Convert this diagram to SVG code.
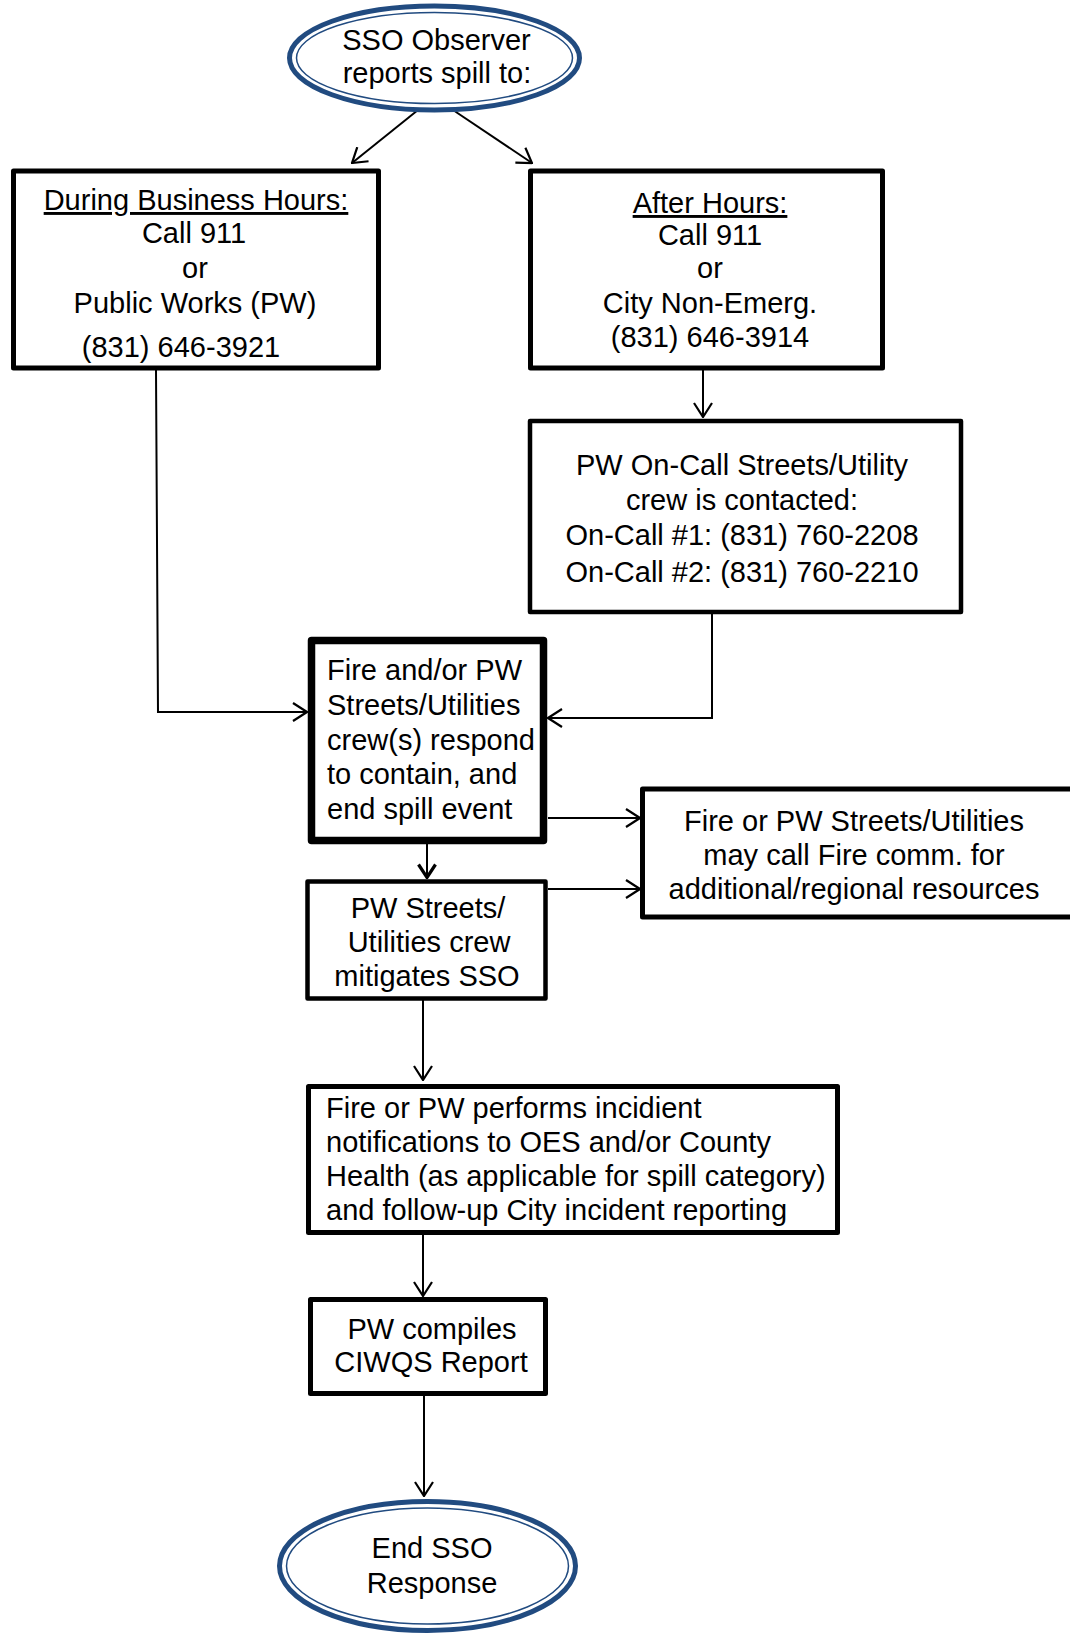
<svg xmlns="http://www.w3.org/2000/svg" width="1070" height="1634" viewBox="0 0 1070 1634">
<style>
text{font-family:"Liberation Sans",Arial,sans-serif;font-size:29px;fill:#000}
.c{text-anchor:middle}
.box{fill:#fff;stroke:#000;stroke-linejoin:round}
.ov{fill:#fff;stroke:#214b80;stroke-width:5}
.ovi{fill:none;stroke:#214b80;stroke-width:1.5}
.ln{fill:none;stroke:#000;stroke-width:2}
</style>
<defs>
<marker id="a" viewBox="0 0 16 20" refX="15" refY="10" markerWidth="16" markerHeight="20" orient="auto" markerUnits="userSpaceOnUse">
<path d="M1,1 L15,10 L1,19" fill="none" stroke="#000" stroke-width="2.2"/>
</marker>
<marker id="b" viewBox="0 0 16 20" refX="15" refY="10" markerWidth="16" markerHeight="20" orient="auto" markerUnits="userSpaceOnUse">
<path d="M1.5,1.5 L14.5,10 L1.5,18.5" fill="none" stroke="#000" stroke-width="3.2"/>
</marker>
</defs>
<g id="connectors">
<path class="ln" d="M418,110 L352,163" marker-end="url(#a)"/>
<path class="ln" d="M453,110 L532,163" marker-end="url(#a)"/>
<path class="ln" d="M703,370 L703,417" marker-end="url(#a)"/>
<path class="ln" d="M156,370 L158,712 L307,712" marker-end="url(#a)"/>
<path class="ln" d="M712,613 L712,718 L548,718" marker-end="url(#a)"/>
<path class="ln" d="M548,818 L640,818" marker-end="url(#a)"/>
<path class="ln" d="M548,889 L640,889" marker-end="url(#a)"/>
<path class="ln" stroke-width="3" d="M427,843 L427,878" marker-end="url(#b)"/>
<path class="ln" d="M423,1000 L423,1080" marker-end="url(#a)"/>
<path class="ln" d="M423,1235 L423,1296" marker-end="url(#a)"/>
<path class="ln" d="M424,1395 L424,1496" marker-end="url(#a)"/>
</g>
<g id="start">
<ellipse class="ov" cx="434.5" cy="58" rx="145" ry="52"/>
<ellipse class="ovi" cx="434.5" cy="58" rx="138" ry="45.5"/>
<text class="c" x="436.5" y="50">SSO Observer</text>
<text class="c" x="437" y="83">reports spill to:</text>
</g>
<g id="business">
<rect class="box" stroke-width="5" x="13.5" y="171" width="365" height="197"/>
<text class="c" x="196" y="210" text-decoration="underline">During Business Hours:</text>
<text class="c" x="194" y="243">Call 911</text>
<text class="c" x="195" y="278">or</text>
<text class="c" x="195" y="313">Public Works (PW)</text>
<text class="c" x="181" y="357">(831) 646-3921</text>
</g>
<g id="after">
<rect class="box" stroke-width="5" x="530.5" y="171" width="352" height="197"/>
<text class="c" x="710" y="213" text-decoration="underline">After Hours:</text>
<text class="c" x="710" y="245">Call 911</text>
<text class="c" x="710" y="278">or</text>
<text class="c" x="710" y="313">City Non-Emerg.</text>
<text class="c" x="710" y="347">(831) 646-3914</text>
</g>
<g id="oncall">
<rect class="box" stroke-width="4.5" x="530" y="421" width="431" height="191"/>
<text class="c" x="742" y="475">PW On-Call Streets/Utility</text>
<text class="c" x="742" y="510">crew is contacted:</text>
<text class="c" x="742" y="545">On-Call #1: (831) 760-2208</text>
<text class="c" x="742" y="582">On-Call #2: (831) 760-2210</text>
</g>
<g id="respond">
<rect class="box" stroke-width="7.5" x="311.5" y="640.5" width="232" height="200"/>
<text x="327" y="680">Fire and/or PW</text>
<text x="327" y="715">Streets/Utilities</text>
<text x="327" y="749.5">crew(s) respond</text>
<text x="327" y="784">to contain, and</text>
<text x="327" y="818.5">end spill event</text>
</g>
<g id="regional">
<rect class="box" stroke-width="5" x="642.5" y="789" width="440" height="128"/>
<text class="c" x="854" y="831">Fire or PW Streets/Utilities</text>
<text class="c" x="854" y="865">may call Fire comm. for</text>
<text class="c" x="854" y="899">additional/regional resources</text>
</g>
<g id="mitigate">
<rect class="box" stroke-width="4.5" x="307.5" y="881.5" width="238" height="117"/>
<text class="c" x="428" y="918">PW Streets/</text>
<text class="c" x="429" y="952">Utilities crew</text>
<text class="c" x="427" y="986">mitigates SSO</text>
</g>
<g id="notify">
<rect class="box" stroke-width="5" x="308.5" y="1086.5" width="529" height="146"/>
<text x="326" y="1118" font-size="29.5">Fire or PW performs incidient</text>
<text x="326" y="1152" font-size="29.5">notifications to OES and/or County</text>
<text x="326" y="1186" font-size="29.5">Health (as applicable for spill category)</text>
<text x="326" y="1220" font-size="29.5">and follow-up City incident reporting</text>
</g>
<g id="ciwqs">
<rect class="box" stroke-width="5" x="310.5" y="1299.5" width="235" height="94"/>
<text class="c" x="432" y="1339">PW compiles</text>
<text class="c" x="431" y="1372">CIWQS Report</text>
</g>
<g id="end">
<ellipse class="ov" cx="427.5" cy="1566" rx="148" ry="64.5"/>
<ellipse class="ovi" cx="427.5" cy="1566" rx="141" ry="58"/>
<text class="c" x="432" y="1558">End SSO</text>
<text class="c" x="432" y="1593">Response</text>
</g>
</svg>
